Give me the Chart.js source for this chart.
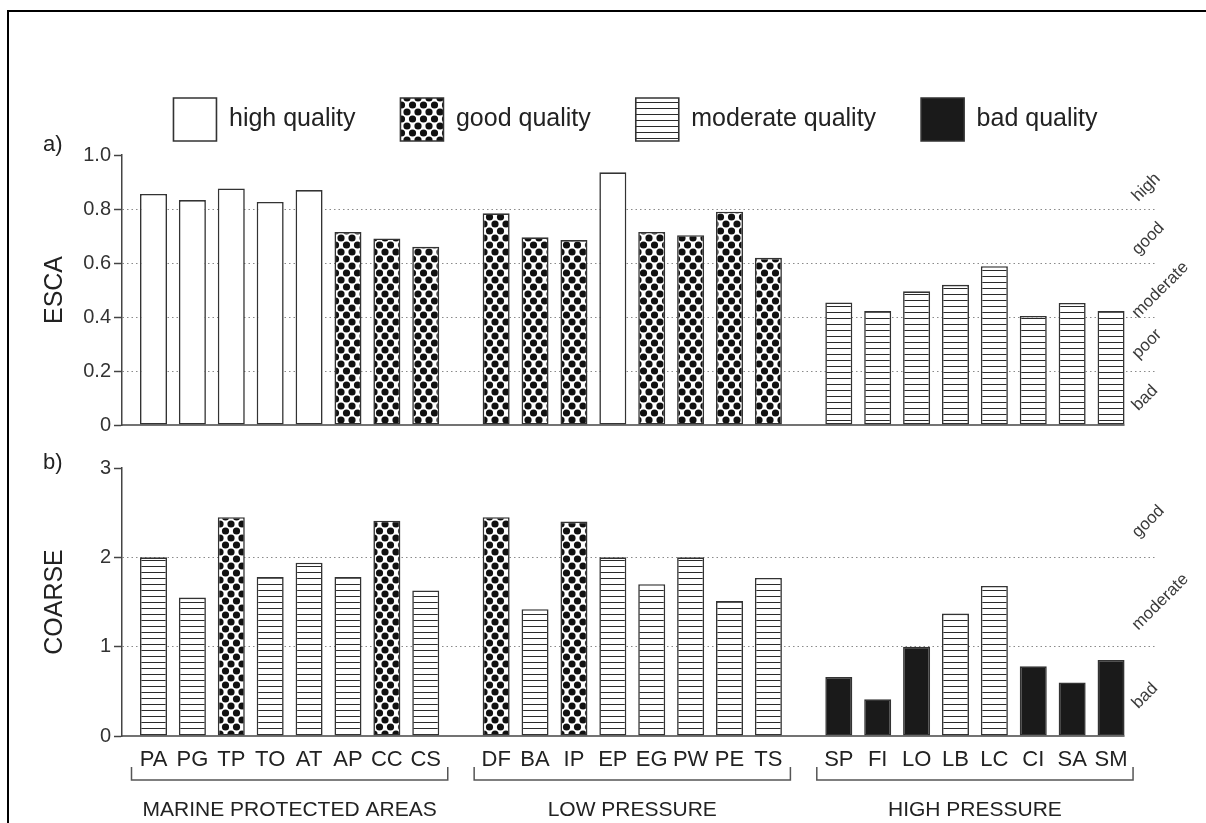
<!DOCTYPE html>
<html>
<head>
<meta charset="utf-8">
<script src="https://cdn.jsdelivr.net/npm/chart.js@4.4.1/dist/chart.umd.min.js"></script>
<style>
  html, body { margin: 0; padding: 0; background: #fff; width: 1206px; height: 823px; overflow: hidden; }
  #frame { position: absolute; left: 7px; top: 10px; width: 1400px; height: 1000px; border: 2px solid #000; }
  canvas { position: absolute; left: 0; }
  #chartA { top: 0; }
  #chartB { top: 440px; }
  .panel { position: absolute; left: 43px; font: 22px/22px "Liberation Sans", Arial, sans-serif; color: #222; }
</style>
</head>
<body>
<div id="frame"></div>
<canvas id="chartA" width="1206" height="440"></canvas>
<canvas id="chartB" width="1206" height="383"></canvas>
<div class="panel" style="top:133px">a)</div>
<div class="panel" style="top:451px">b)</div>
<script>
const sites = ["PA", "PG", "TP", "TO", "AT", "AP", "CC", "CS",
  "DF", "BA", "IP", "EP", "EG", "PW", "PE", "TS",
  "SP", "FI", "LO", "LB", "LC", "CI", "SA", "SM"];
const groupNames = ["MARINE PROTECTED AREAS", "LOW PRESSURE", "HIGH PRESSURE"];
const siteGroup = [0, 0, 0, 0, 0, 0, 0, 0, 1, 1, 1, 1, 1, 1, 1, 1, 2, 2, 2, 2, 2, 2, 2, 2];

const escaValues = [0.856, 0.833, 0.876, 0.826, 0.870, 0.715, 0.691, 0.660,
  0.784, 0.695, 0.685, 0.936, 0.715, 0.703, 0.790, 0.619,
  0.454, 0.422, 0.495, 0.519, 0.588, 0.404, 0.452, 0.422];
const escaQuality = ["high", "high", "high", "high", "high", "good", "good", "good",
  "good", "good", "good", "high", "good", "good", "good", "good",
  "moderate", "moderate", "moderate", "moderate", "moderate", "moderate", "moderate", "moderate"];

const coarseValues = [2.00, 1.55, 2.45, 1.78, 1.94, 1.78, 2.41, 1.63,
  2.45, 1.42, 2.40, 2.00, 1.70, 2.00, 1.51, 1.77,
  0.66, 0.41, 1.00, 1.37, 1.68, 0.78, 0.60, 0.85];
const coarseQuality = ["moderate", "moderate", "good", "moderate", "moderate", "moderate", "good", "moderate",
  "good", "moderate", "good", "moderate", "moderate", "moderate", "moderate", "moderate",
  "bad", "bad", "bad", "moderate", "moderate", "bad", "bad", "bad"];

const qualities = ["high", "good", "moderate", "bad"];
const qualityLabels = ["high quality", "good quality", "moderate quality", "bad quality"];

const escaTicks = ["0", "0.2", "0.4", "0.6", "0.8", "1.0"];
const coarseTicks = ["0", "1", "2", "3"];

const escaZones = ["high", "good", "moderate", "poor", "bad"];
const escaZoneAt = [0.88, 0.69, 0.5, 0.3, 0.1];
const coarseZones = ["good", "moderate", "bad"];
const coarseZoneAt = [2.4, 1.5, 0.45];

const FONT = '"Liberation Sans", Arial, Helvetica, sans-serif';
const NARROW = '"Liberation Sans Narrow", "Arial Narrow", "Liberation Sans", sans-serif';

// x layout: one unit per site, a bit of extra space between the groups
const groupGap = 0.81;
const xPos = sites.map((s, i) => i + siteGroup[i] * groupGap);
const xMin = -0.81;
const xMax = 25.75;
const barWidth = 27;

function makePattern(kind) {
  const c = document.createElement("canvas");
  const g = c.getContext("2d");
  if (kind === "dots") {
    c.width = 11;
    c.height = 14;
    g.fillStyle = "#fff";
    g.fillRect(0, 0, 11, 14);
    g.fillStyle = "#111";
    [[0, 0], [11, 0], [0, 14], [11, 14], [5.5, 7]].forEach(([x, y]) => {
      g.beginPath();
      g.arc(x, y, 3.6, 0, Math.PI * 2);
      g.fill();
    });
  } else {
    c.width = 6;
    c.height = 6;
    g.fillStyle = "#fff";
    g.fillRect(0, 0, 6, 6);
    g.fillStyle = "#2a2a2a";
    g.fillRect(0, 0, 6, 1);
  }
  return g.createPattern(c, "repeat");
}

const fills = ["#ffffff", makePattern("dots"), makePattern("lines"), "#1a1a1a"];

function buildDatasets(values, quality) {
  return qualities.map((q, k) => ({
    label: qualityLabels[k],
    data: values.map((v, i) => ({ x: xPos[i], y: v })).filter((p, i) => quality[i] === q),
    backgroundColor: fills[k],
    borderColor: "#333",
    borderWidth: 1.6,
    borderSkipped: false,
    grouped: false,
    categoryPercentage: 1,
    barPercentage: 0.9,
    maxBarThickness: barWidth,
  }));
}

function yScale(max, step, labels, title) {
  return {
    min: 0,
    max: max,
    ticks: {
      stepSize: step,
      padding: 3,
      color: "#333",
      font: { size: 20, family: FONT },
      callback: (v, i) => labels[i],
    },
    grid: {
      color: (c) => (c.tick && c.tick.value > 0 && c.tick.value < max - 1e-6 ? "#8a8a8a" : "rgba(0,0,0,0)"),
      lineWidth: 1,
      tickLength: 8,
      tickColor: "#444",
      tickWidth: 1.5,
    },
    border: { display: true, color: "#444", width: 1.5, dash: [1.5, 3] },
    title: {
      display: true,
      text: title,
      color: "#222",
      font: { size: 25, family: FONT },
      padding: { top: 40, bottom: 0 },
    },
    afterFit: (s) => { s.width = 122; },
  };
}

const decor = {
  id: "decor",
  afterLayout(chart, args, opts) {
    if (opts.legendBox && chart.legend) {
      chart.legend.left = opts.legendBox.left;
      chart.legend.top = opts.legendBox.top;
    }
  },
  afterDatasetsDraw(chart, args, opts) {
    const { ctx, chartArea } = chart;
    const x = chart.scales.x;
    const y = chart.scales.y;
    ctx.save();

    // axis baseline, only as far as the last bar
    const y0 = y.getPixelForValue(0);
    const lastEdge = x.getPixelForValue(xPos[xPos.length - 1]) + barWidth / 2;
    ctx.strokeStyle = "#444";
    ctx.lineWidth = 1.5;
    ctx.beginPath();
    ctx.moveTo(chartArea.left, y0);
    ctx.lineTo(lastEdge, y0);
    ctx.stroke();

    // class names on the right, slanted
    ctx.font = "17px " + FONT;
    ctx.fillStyle = "#3a3a3a";
    ctx.textAlign = "left";
    ctx.textBaseline = "middle";
    opts.zones.forEach((t, k) => {
      const half = (ctx.measureText(t).width / 2) * Math.SQRT1_2;
      ctx.save();
      ctx.translate(chartArea.right - 20, y.getPixelForValue(opts.zoneAt[k]) + half);
      ctx.rotate(-Math.PI / 4);
      ctx.fillText(t, 0, 0);
      ctx.restore();
    });

    // group brackets under the site names
    if (opts.brackets) {
      const lineY = chartArea.bottom + 44;
      groupNames.forEach((name, g) => {
        const idx = sites.map((s, i) => i).filter((i) => siteGroup[i] === g);
        const left = x.getPixelForValue(xPos[idx[0]]) - 22;
        const right = x.getPixelForValue(xPos[idx[idx.length - 1]]) + 22;
        ctx.strokeStyle = "#555";
        ctx.lineWidth = 1.5;
        ctx.beginPath();
        ctx.moveTo(left, lineY - 13);
        ctx.lineTo(left, lineY);
        ctx.lineTo(right, lineY);
        ctx.lineTo(right, lineY - 13);
        ctx.stroke();
        ctx.font = "21px " + FONT;
        ctx.fillStyle = "#222";
        ctx.textAlign = "center";
        ctx.textBaseline = "middle";
        ctx.fillText(name, (left + right) / 2, chartArea.bottom + 74);
      });
    }
    ctx.restore();
  },
};

Chart.defaults.font.family = FONT;

const chartA = new Chart(document.getElementById("chartA").getContext("2d"), {
  type: "bar",
  data: { datasets: buildDatasets(escaValues, escaQuality) },
  options: {
    responsive: false,
    animation: false,
    events: [],
    layout: { padding: { top: 57, right: 51, bottom: 15, left: 0 } },
    scales: {
      x: { type: "linear", min: xMin, max: xMax, offset: false, bounds: "data", display: false },
      y: yScale(1, 0.2, escaTicks, "ESCA"),
    },
    plugins: {
      tooltip: { enabled: false },
      legend: {
        display: true,
        position: "top",
        labels: {
          boxWidth: 43,
          boxHeight: 43,
          padding: 45,
          color: "#222",
          font: { size: 25, family: FONT },
        },
      },
      decor: { zones: escaZones, zoneAt: escaZoneAt, legendBox: { left: 116, top: 53 } },
    },
  },
  plugins: [decor],
});

const chartB = new Chart(document.getElementById("chartB").getContext("2d"), {
  type: "bar",
  data: { datasets: buildDatasets(coarseValues, coarseQuality) },
  options: {
    responsive: false,
    animation: false,
    events: [],
    layout: { padding: { top: 28, right: 51, bottom: 0, left: 0 } },
    scales: {
      x: {
        type: "linear",
        min: xMin,
        max: xMax,
        offset: false,
        bounds: "data",
        grid: { display: false, drawTicks: false },
        border: { display: false },
        ticks: {
          autoSkip: false,
          maxRotation: 0,
          padding: 11,
          color: "#222",
          font: { size: 22, family: NARROW },
          callback: (v, i) => sites[i],
        },
        afterBuildTicks: (s) => { s.ticks = xPos.map((v) => ({ value: v })); },
        afterFit: (s) => { s.height = 87; },
      },
      y: yScale(3, 1, coarseTicks, "COARSE"),
    },
    plugins: {
      tooltip: { enabled: false },
      legend: { display: false },
      decor: { zones: coarseZones, zoneAt: coarseZoneAt, brackets: true },
    },
  },
  plugins: [decor],
});
</script>
</body>
</html>
